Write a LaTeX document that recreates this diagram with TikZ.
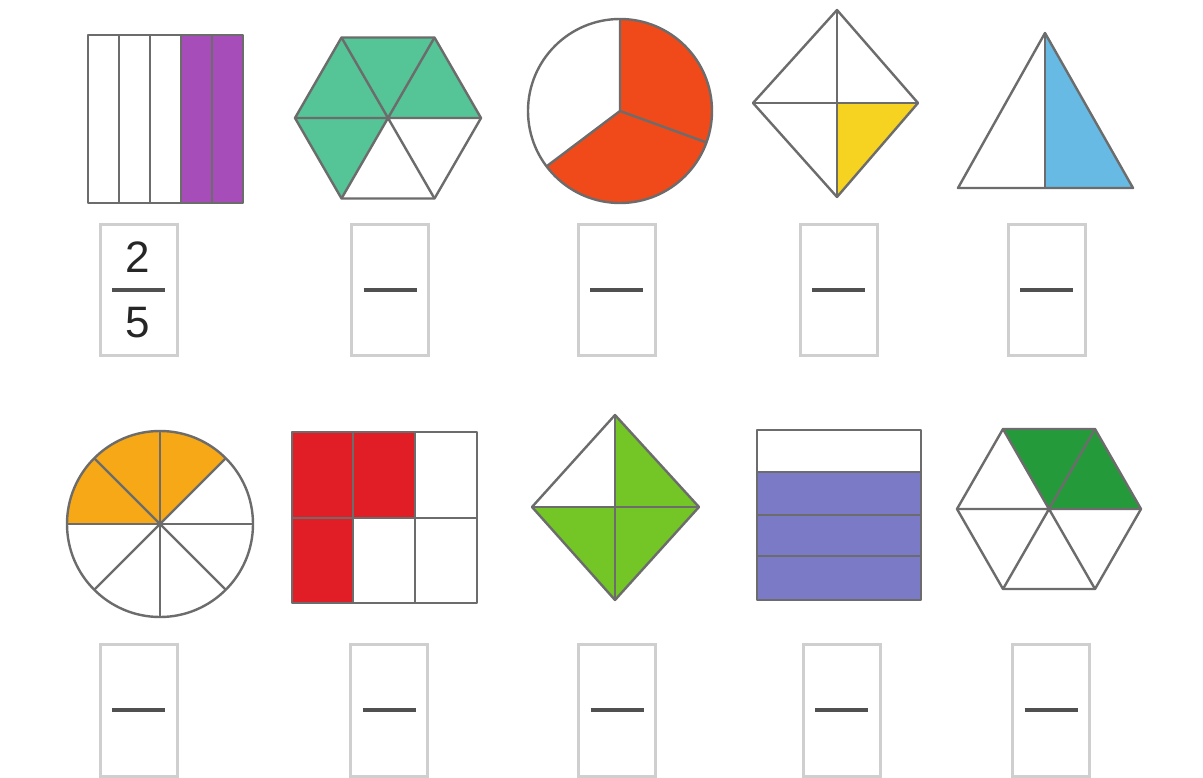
\documentclass[tikz,border=0pt]{standalone}
\usepackage{fontspec}
\setmainfont{Liberation Sans}
\definecolor{edge}{HTML}{6C6C6C}
\definecolor{boxc}{HTML}{CFCFCF}
\definecolor{barc}{HTML}{505050}
\definecolor{cpurple}{HTML}{A64DB9}
\definecolor{cteal}{HTML}{55C497}
\definecolor{cred1}{HTML}{F04A1A}
\definecolor{cyellow}{HTML}{F6D321}
\definecolor{cblue}{HTML}{66BAE3}
\definecolor{corange}{HTML}{F6A817}
\definecolor{cred2}{HTML}{E11D25}
\definecolor{clime}{HTML}{74C526}
\definecolor{cperi}{HTML}{7A7AC6}
\definecolor{cdgreen}{HTML}{249A3B}
\tikzset{
  shp/.style={draw=edge, line width=2.4pt, line join=round},
  ansbox/.style={draw=boxc, line width=3pt, minimum width=77pt, minimum height=130pt, inner sep=0pt, fill=white},
  fbar/.style={draw=barc, line width=3.5pt},
  digit/.style={font=\fontsize{44}{44}\selectfont, text=black!85, inner sep=0pt}
}
\begin{document}
\begin{tikzpicture}[x=1pt,y=-1pt]
\useasboundingbox[fill=white] (0,0) rectangle (1203,778);

% ---------- Row 1 ----------
% 1: rectangle with 5 vertical strips, 2 purple
\fill[cpurple] (181,35) rectangle (243,203);
\draw[shp] (88,35) rectangle (243,203);
\foreach \x in {119,150,181,212} \draw[shp] (\x,35) -- (\x,203);

% 2: hexagon, 4 of 6 teal
\begin{scope}[shift={(388,118)}]
  \fill[cteal] (0,0) -- (-93,0) -- (-46.5,-80.5) -- (46.5,-80.5) -- (93,0) -- cycle;
  \fill[cteal] (0,0) -- (-93,0) -- (-46.5,80.5) -- cycle;
  \draw[shp] (93,0) -- (46.5,-80.5) -- (-46.5,-80.5) -- (-93,0) -- (-46.5,80.5) -- (46.5,80.5) -- cycle;
  \draw[shp] (-93,0) -- (93,0) (-46.5,-80.5) -- (46.5,80.5) (46.5,-80.5) -- (-46.5,80.5);
\end{scope}

% 3: circle in thirds, 2 red
\begin{scope}[shift={(620,111)}, y=1pt]
  \fill[cred1] (0,0) -- (-143:92) arc[start angle=-143,end angle=90,radius=92] -- cycle;
  \draw[shp] (0,0) circle[radius=92];
  \draw[shp] (90:92) -- (0,0) -- (217:92) (0,0) -- (-20:92);
\end{scope}

% 4: diamond, one quarter yellow
\fill[cyellow] (837,103) -- (918,103) -- (837,197) -- cycle;
\draw[shp] (837,10) -- (918,103) -- (837,197) -- (753,103) -- cycle;
\draw[shp] (837,10) -- (837,197) (753,103) -- (918,103);

% 5: triangle, right half blue
\fill[cblue] (1045,33) -- (1133,188) -- (1045,188) -- cycle;
\draw[shp] (1045,33) -- (1133,188) -- (958,188) -- cycle;
\draw[shp] (1045,33) -- (1045,188);

% answer boxes row 1
\node[ansbox] (a1) at (138.5,290) {};
\node[ansbox] (a2) at (390,290) {};
\node[ansbox] (a3) at (616.5,290) {};
\node[ansbox] (a4) at (838.5,290) {};
\node[ansbox] (a5) at (1046.5,290) {};
\node[digit] (n1) at (138,257) {2};
\node[digit] (d1) at (138,323) {5};
\foreach \b in {a1,a2,a3,a4,a5}
  \draw[fbar] ([xshift=-26.5pt]\b.center) -- ([xshift=26.5pt]\b.center);

% ---------- Row 2 ----------
% 6: circle in eighths, 3 orange
\begin{scope}[shift={(160,524)}, y=1pt]
  \fill[corange] (0,0) -- (45:93) arc[start angle=45,end angle=180,radius=93] -- cycle;
  \draw[shp] (0,0) circle[radius=93];
  \foreach \a in {0,45,...,135} \draw[shp] (\a:93) -- (\a+180:93);
\end{scope}

% 7: 3x2 grid, 3 red
\fill[cred2] (292,432) rectangle (415,518);
\fill[cred2] (292,518) rectangle (353,603);
\draw[shp] (292,432) rectangle (477,603);
\draw[shp] (353,432) -- (353,603) (415,432) -- (415,603) (292,518) -- (477,518);

% 8: diamond, 3 quarters green
\fill[clime] (615,415) -- (699,507) -- (615,600) -- (532,507) -- (615,507) -- cycle;
\draw[shp] (615,415) -- (699,507) -- (615,600) -- (532,507) -- cycle;
\draw[shp] (615,415) -- (615,600) (532,507) -- (699,507);

% 9: rectangle with 4 horizontal strips, 3 blue
\fill[cperi] (757,472) rectangle (921,600);
\draw[shp] (757,430) rectangle (921,600);
\foreach \y in {472,515,556} \draw[shp] (757,\y) -- (921,\y);

% 10: hexagon, 2 of 6 dark green
\begin{scope}[shift={(1049,509)}]
  \fill[cdgreen] (0,0) -- (-46,-80) -- (46,-80) -- (92,0) -- cycle;
  \draw[shp] (92,0) -- (46,-80) -- (-46,-80) -- (-92,0) -- (-46,80) -- (46,80) -- cycle;
  \draw[shp] (-92,0) -- (92,0) (-46,-80) -- (46,80) (46,-80) -- (-46,80);
\end{scope}

% answer boxes row 2
\node[ansbox, minimum height=132pt] (b1) at (138.5,710) {};
\node[ansbox, minimum height=132pt] (b2) at (389,710) {};
\node[ansbox, minimum height=132pt] (b3) at (617,710) {};
\node[ansbox, minimum height=132pt] (b4) at (841.5,710) {};
\node[ansbox, minimum height=132pt] (b5) at (1051,710) {};
\foreach \b in {b1,b2,b3,b4,b5}
  \draw[fbar] ([xshift=-26.5pt]\b.center) -- ([xshift=26.5pt]\b.center);
\end{tikzpicture}
\end{document}
